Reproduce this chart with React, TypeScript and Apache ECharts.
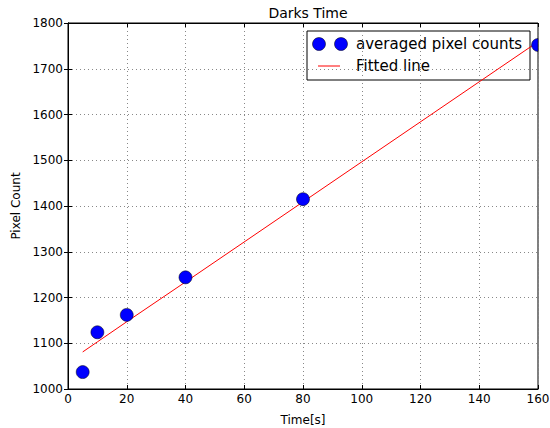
import React, { useEffect, useRef } from "react";
import * as echarts from "echarts";

const timeValues = [5, 10, 20, 40, 80, 160];
const pixelCounts = [1037, 1124, 1162, 1244, 1415, 1752];
const fittedValues = [1081, 1103, 1147, 1234, 1409, 1759];
const xTicks = [0, 20, 40, 60, 80, 100, 120, 140, 160];
const yTicks = [1000, 1100, 1200, 1300, 1400, 1500, 1600, 1700, 1800];

const FONT = "DejaVu Sans";
const X_MAX = 160;
const HALF_CIRCLE = "path://M10,0 A10,10 0 0 0 10,20 Z";

export default function App() {
  const ref = useRef<HTMLDivElement>(null);
  useEffect(() => {
    const chart = echarts.init(ref.current!, null, { renderer: "svg" });
    const scatterData = timeValues.map((t, i) =>
      t >= X_MAX
        ? { value: [t, pixelCounts[i]], symbol: HALF_CIRCLE, symbolSize: [6.5, 13], symbolOffset: [-3.25, 0] }
        : { value: [t, pixelCounts[i]] }
    );
    const lineData = timeValues.map((t, i) => [t, fittedValues[i]]);
    const gridLeft = 68, gridTop = 23, gridRight = 12, gridBottom = 39;
    const axisCommon = {
      axisLine: { show: true, lineStyle: { color: "#000", width: 1 } },
      axisTick: { show: true, inside: true, length: 4, lineStyle: { color: "#000" } },
    };
    chart.setOption({
      animation: false,
      backgroundColor: "#fff",
      title: {
        text: "Darks Time",
        left: 303,
        textAlign: "center",
        top: 1,
        textStyle: { fontFamily: FONT, fontSize: 14, fontWeight: "normal", color: "#000" },
      },
      grid: {
        left: gridLeft,
        right: gridRight,
        top: gridTop,
        bottom: gridBottom,
        containLabel: false,
        outerBoundsMode: "none",
        show: true,
        borderColor: "#000",
        borderWidth: 1,
      },
      xAxis: [
        {
          type: "value",
          min: 0,
          max: X_MAX,
          interval: 20,
          name: "Time[s]",
          nameLocation: "middle",
          nameGap: 25,
          nameTextStyle: { fontFamily: FONT, fontSize: 12, color: "#000" },
          ...axisCommon,
          axisLabel: {
            fontFamily: FONT,
            fontSize: 12,
            color: "#000",
            margin: 4,
            formatter: (v: number) => (xTicks.includes(v) ? String(v) : ""),
          },
          splitLine: { show: true, lineStyle: { color: "#888", type: [1, 3], width: 1 } },
        },
        {
          type: "value",
          position: "top",
          min: 0,
          max: X_MAX,
          interval: 20,
          ...axisCommon,
          axisLabel: { show: false },
          splitLine: { show: false },
        },
      ],
      yAxis: [
        {
          type: "value",
          min: 1000,
          max: 1800,
          interval: 100,
          name: "Pixel Count",
          nameLocation: "middle",
          nameGap: 39,
          nameTextStyle: { fontFamily: FONT, fontSize: 12, color: "#000" },
          ...axisCommon,
          axisLabel: {
            fontFamily: FONT,
            fontSize: 12,
            color: "#000",
            margin: 5,
            formatter: (v: number) => (yTicks.includes(v) ? String(v) : ""),
          },
          splitLine: { show: true, lineStyle: { color: "#888", type: [1, 3], width: 1 } },
        },
        {
          type: "value",
          position: "right",
          min: 1000,
          max: 1800,
          interval: 100,
          ...axisCommon,
          axisLabel: { show: false },
          splitLine: { show: false },
        },
      ],
      series: [
        {
          name: "Fitted line",
          type: "line",
          data: lineData,
          symbol: "none",
          lineStyle: { color: "#ff0000", width: 1 },
          z: 2,
        },
        {
          name: "averaged pixel counts",
          type: "scatter",
          data: scatterData,
          symbol: "circle",
          symbolSize: 13,
          itemStyle: { color: "#0000ff", borderColor: "#000", borderWidth: 0.5, opacity: 1 },
          z: 3,
        },
      ],
      graphic: [
        {
          type: "group",
          z: 101,
          children: [
            {
              type: "rect",
              shape: { x: 307, y: 31, width: 223, height: 49 },
              style: { fill: "#fff", stroke: "#000", lineWidth: 1 },
            },
            { type: "circle", shape: { cx: 319, cy: 44, r: 6.5 }, style: { fill: "#0000ff", stroke: "#000", lineWidth: 0.5 } },
            { type: "circle", shape: { cx: 341, cy: 44, r: 6.5 }, style: { fill: "#0000ff", stroke: "#000", lineWidth: 0.5 } },
            {
              type: "text",
              x: 356,
              y: 44,
              style: { text: "averaged pixel counts", fontFamily: FONT, fontSize: 15, fill: "#000", verticalAlign: "middle" },
            },
            { type: "line", shape: { x1: 318, y1: 66, x2: 340, y2: 66 }, style: { stroke: "#ff0000", lineWidth: 1 } },
            {
              type: "text",
              x: 356,
              y: 66,
              style: { text: "Fitted line", fontFamily: FONT, fontSize: 15, fill: "#000", verticalAlign: "middle" },
            },
          ],
        },
      ],
    });
    return () => chart.dispose();
  }, []);
  return <div ref={ref} style={{ width: 550, height: 428, position: "absolute", left: 0, top: 0 }} />;
}
